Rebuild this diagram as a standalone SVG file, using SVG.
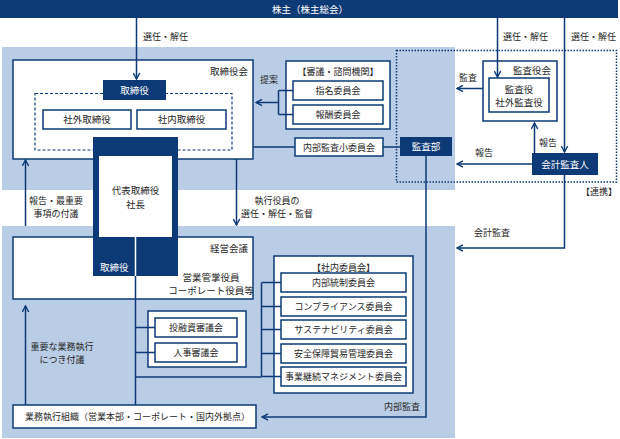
<svg xmlns="http://www.w3.org/2000/svg" width="620" height="439" viewBox="0 0 620 439">
<defs>
<style>
text{font-family:"Noto Sans CJK JP","Noto Sans",sans-serif;font-size:9.5px;fill:#262626}
.w{fill:#fff}
.m{text-anchor:middle}
.e{text-anchor:end}
.s9{font-size:9px}
.box{fill:#fff;stroke:#0d3a76;stroke-width:1.5}
.nv{fill:#0d3a76}
.ln{fill:none;stroke:#0d3a76;stroke-width:1.5}
.ar{fill:none;stroke:#0d3a76;stroke-width:1.5;marker-end:url(#ah)}
</style>
<marker id="ah" viewBox="0 0 10 10" refX="9" refY="5" markerWidth="8" markerHeight="8" orient="auto" markerUnits="userSpaceOnUse">
<path d="M1.5,1 L9,5 L1.5,9" fill="none" stroke="#0d3a76" stroke-width="1.8"/>
</marker>
</defs>
<rect x="0" y="0" width="620" height="439" fill="#fff"/>
<!-- background zones -->
<rect x="2" y="47" width="453" height="143" fill="#bacde6"/>
<rect x="2" y="226" width="453" height="212" fill="#bacde6"/>

<g id="shareholders">
<rect x="0" y="0" width="618" height="18" class="nv"/>
<text x="310" y="12.5" class="w m">株主（株主総会）</text>
</g>

<g id="board">
<rect x="13" y="60" width="240" height="99" class="box"/>
<text x="248" y="75" class="e">取締役会</text>
<rect x="35" y="93.5" width="197" height="56.5" fill="none" stroke="#0d3a76" stroke-width="1.2" stroke-dasharray="3 2"/>
</g>
<g id="directors">
<rect x="103" y="80" width="63" height="20" class="nv"/>
<text x="134.5" y="93.5" class="w m">取締役</text>
</g>
<g id="outside-directors">
<rect x="43" y="110" width="88" height="19" class="box"/>
<text x="87" y="123" class="m">社外取締役</text>
</g>
<g id="inside-directors">
<rect x="137" y="110" width="89" height="19" class="box"/>
<text x="181.5" y="123" class="m">社内取締役</text>
</g>

<g id="management-meeting">
<rect x="13" y="237" width="240" height="62" class="box"/>
<text x="248" y="251.5" class="e">経営会議</text>
<text x="211" y="280.5" class="m">営業管掌役員</text>
<text x="211" y="293.5" class="m">コーポレート役員等</text>
</g>

<g id="president">
<rect x="93" y="137" width="85" height="139" class="nv"/>
<rect x="99" y="156" width="73" height="81" fill="#fff"/>
<text x="135.5" y="194" class="m">代表取締役</text>
<text x="135.5" y="207.5" class="m">社長</text>
<text x="100" y="270.5" class="w">取締役</text>
</g>

<g id="business-org">
<rect x="13" y="405" width="243" height="23" class="box"/>
<text x="25" y="420" class="s9">業務執行組織（営業本部・コーポレート・国内外拠点）</text>
</g>

<g id="review-councils">
<rect x="148" y="311" width="98" height="56" class="box"/>
<rect x="155" y="318" width="82" height="19" class="box"/>
<text x="196" y="331" class="m s9">投融資審議会</text>
<rect x="155" y="343" width="82" height="19" class="box"/>
<text x="196" y="356" class="m s9">人事審議会</text>
</g>

<g id="internal-committees">
<rect x="274" y="256" width="139" height="137" class="box"/>
<text x="343.5" y="270.5" class="m s9">【社内委員会】</text>
<rect x="281" y="273" width="125" height="19" class="box"/>
<text x="343.5" y="286" class="m s9">内部統制委員会</text>
<rect x="281" y="297" width="125" height="19" class="box"/>
<text x="343.5" y="310" class="m s9">コンプライアンス委員会</text>
<rect x="281" y="320" width="125" height="19" class="box"/>
<text x="343.5" y="333" class="m s9">サステナビリティ委員会</text>
<rect x="281" y="344" width="125" height="19" class="box"/>
<text x="343.5" y="357" class="m s9">安全保障貿易管理委員会</text>
<rect x="281" y="367" width="125" height="19" class="box"/>
<text x="343.5" y="380" class="m s9">事業継続マネジメント委員会</text>
</g>

<g id="advisory">
<rect x="286" y="61" width="104" height="68" class="box"/>
<text x="338" y="75" class="m s9">【審議・諮問機関】</text>
<rect x="293" y="81" width="90" height="19" class="box"/>
<text x="338" y="94" class="m s9">指名委員会</text>
<rect x="293" y="105" width="90" height="19" class="box"/>
<text x="338" y="118" class="m s9">報酬委員会</text>
</g>

<g id="internal-audit-subcommittee">
<rect x="295" y="138" width="88" height="18" class="box"/>
<text x="339" y="150.5" class="m s9">内部監査小委員会</text>
</g>

<g id="audit-dept">
<rect x="400" y="137" width="52" height="19" class="nv"/>
<text x="426" y="150" class="w m">監査部</text>
</g>

<g id="liaison">
<rect x="396.5" y="50.5" width="220" height="131.5" fill="none" stroke="#0d3a76" stroke-width="1.5" stroke-dasharray="1.5 1.5"/>
<text x="599" y="195" class="m s9">【連携】</text>
</g>

<g id="audit-board">
<rect x="483" y="61" width="74" height="60" class="box"/>
<text x="551" y="74" class="e">監査役会</text>
<rect x="489" y="78" width="60" height="34" class="box"/>
<text x="519" y="92.5" class="m">監査役</text>
<text x="519" y="105.5" class="m">社外監査役</text>
</g>

<g id="accounting-auditor">
<rect x="532" y="153" width="66" height="22" class="nv"/>
<text x="565" y="167.5" class="w m">会計監査人</text>
</g>

<g id="connectors">
<path d="M136.5,18 V79" class="ar"/>
<path d="M497.5,18 V77" class="ar"/>
<path d="M564.5,18 V152" class="ar"/>
<path d="M25.5,226 V160" class="ar"/>
<path d="M236.5,159 V225" class="ar"/>
<path d="M25.5,405 V306" class="ar"/>
<path d="M135.5,237 V276" fill="none" stroke="#fff" stroke-width="1.5"/>
<path d="M135.5,276 V405" class="ln"/>
<path d="M135.5,327.5 H155 M135.5,352.5 H155 M135.5,377 H261.5" class="ln"/>
<path d="M261.5,282.5 V376.5 M261.5,282.5 H281 M261.5,306.5 H281 M261.5,329.5 H281 M261.5,353.5 H281 M261.5,376.5 H281" class="ln"/>
<path d="M278.5,90.5 V114.5 M278.5,90.5 H293 M278.5,114.5 H293" class="ln"/>
<path d="M278.5,102.5 H256" class="ar"/>
<path d="M253,147 H295 M383,147 H400" class="ln"/>
<path d="M426,156 V417 H262" class="ar"/>
<path d="M483,88.5 H457" class="ar"/>
<path d="M532,164 H457" class="ar"/>
<path d="M534.5,153 V123" class="ar"/>
<path d="M564.5,175 V248 H457" class="ar"/>
</g>

<g id="labels">
<text x="143" y="39.5" class="s9">選任・解任</text>
<text x="503" y="39.5" class="s9">選任・解任</text>
<text x="571" y="39.5" class="s9">選任・解任</text>
<text x="269" y="83" class="m s9">提案</text>
<text x="468" y="81" class="m s9">監査</text>
<text x="539" y="145.5" class="s9">報告</text>
<text x="484" y="156" class="m s9">報告</text>
<text x="492" y="236" class="m s9">会計監査</text>
<text x="56" y="203.5" class="m s9">報告・最重要</text>
<text x="56" y="216.5" class="m s9">事項の付議</text>
<text x="277" y="204" class="m s9">執行役員の</text>
<text x="277" y="216.5" class="m s9">選任・解任・監督</text>
<text x="62" y="350" class="m s9">重要な業務執行</text>
<text x="62" y="363" class="m s9">につき付議</text>
<text x="420" y="409.5" class="e s9">内部監査</text>
</g>
</svg>
